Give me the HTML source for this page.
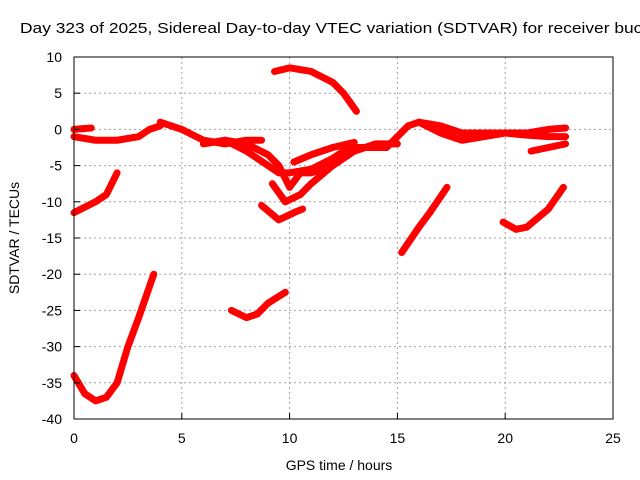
<!DOCTYPE html>
<html><head><meta charset="utf-8"><style>
body{margin:0;background:#fff;}
svg{display:block;font-family:"Liberation Sans",sans-serif;}
</style></head><body>
<svg id="chart" width="640" height="480">
<rect width="640" height="480" fill="#fff"/>
<text x="20" y="33" font-size="15" textLength="632" lengthAdjust="spacingAndGlyphs">Day 323 of 2025, Sidereal Day-to-day VTEC variation (SDTVAR) for receiver bucu</text>
<g id="grid"></g>
<g id="series"></g>
<rect x="74" y="57" width="539" height="362" fill="none" stroke="#000" stroke-width="1"/>
<g id="axes"></g>
<text x="339" y="470" font-size="14" text-anchor="middle">GPS time / hours</text>
<text transform="translate(19,238) rotate(-90)" font-size="14" text-anchor="middle">SDTVAR / TECUs</text>
</svg>
<script>
const xTicks=[0,5,10,15,20,25];
const yTicks=[10,5,0,-5,-10,-15,-20,-25,-30,-35,-40];
const track1=[[0,-1],[1,-1.5],[2,-1.5],[3,-1],[3.5,0],[4,0.5]];
const track2=[[0,0],[0.8,0.2]];
const track3=[[4,1],[5,0],[6,-1.5],[7,-2],[8,-1.5],[8.7,-1.5]];
const track4=[[6,-2],[7,-1.5],[8,-3],[9,-5],[9.5,-6],[10,-6],[11,-5.5],[12,-4],[12.5,-3],[13,-2.5],[14,-2.5],[14.5,-2.5],[15,-1],[15.5,0.5],[16,1],[17,0.5],[18,-0.5],[19,-0.5],[20,-0.5],[21,-0.5],[22,0],[22.8,0.2]];
const track5=[[7,-1.5],[8,-2],[9,-3.5],[9.5,-5],[10,-8],[10.5,-6],[11,-6],[12,-5],[13,-3],[14,-2],[15,-2]];
const track6=[[9.2,-7.5],[9.8,-10],[10.5,-9],[11,-7.5],[12,-5],[12.5,-3.5]];
const track7=[[10.2,-4.5],[11,-3.5],[12,-2.5],[13,-1.8]];
const track8=[[16,1],[17,-0.5],[18,-1.5],[19,-1],[20,-0.5],[21,-0.8],[22,-1],[22.8,-1]];
const track9=[[21.2,-3],[22,-2.5],[22.8,-2]];
const track10=[[9.3,8],[10,8.5],[11,8],[12,6.5],[12.5,5],[13.1,2.5]];
const track11=[[0,-11.5],[1,-10],[1.5,-9],[2,-6]];
const track12=[[0,-34],[0.5,-36.5],[1,-37.5],[1.5,-37],[2,-35],[2.5,-30],[3,-26],[3.7,-20]];
const track13=[[7.3,-25],[8,-26],[8.5,-25.5],[9,-24],[9.8,-22.5]];
const track14=[[8.7,-10.5],[9.5,-12.5],[10.2,-11.5],[10.6,-11]];
const track15=[[15.2,-17],[16,-13.5],[16.5,-11.5],[17.3,-8]];
const track16=[[19.9,-12.8],[20.5,-13.8],[21,-13.5],[22,-11],[22.7,-8]];
const tracks=[track1,track2,track3,track4,track5,track6,track7,track8,track9,track10,track11,track12,track13,track14,track15,track16];
const NS="http://www.w3.org/2000/svg";
function xs(v){return 74+(v-0)/25*539;}
function ys(v){return 57+(10-v)/50*362;}
const grid=document.getElementById('grid'),axes=document.getElementById('axes'),ser=document.getElementById('series');
function mk(tag,at,par){const e=document.createElementNS(NS,tag);for(const k in at)e.setAttribute(k,at[k]);par.appendChild(e);return e;}
xTicks.forEach(t=>{
  const x=xs(t);
  if(t>0&&t<25){const g=mk('line',{x1:x,y1:57,x2:x,y2:419,stroke:'#a0a0a0','stroke-dasharray':'2,3'},grid);
  
  }
  const l=mk('line',{x1:x,y1:419,x2:x,y2:413,stroke:'#000'},axes);
  
  
  const tx=mk('text',{x:x,y:443,'font-size':14,'text-anchor':'middle'},axes);tx.textContent=t;
  
  
});
yTicks.forEach(t=>{
  const y=ys(t);
  if(t<10&&t>-40){const g=mk('line',{x1:74,y1:y,x2:613,y2:y,stroke:'#a0a0a0','stroke-dasharray':'2,3'},grid);
  
  }
  const l=mk('line',{x1:74,y1:y,x2:80,y2:y,stroke:'#000'},axes);
  
  
  const tx=mk('text',{x:62,y:y+5,'font-size':14,'text-anchor':'end'},axes);tx.textContent=t;
  
  
});
tracks.forEach(tr=>{
  const p=mk('polyline',{points:tr.map(d=>xs(d[0])+','+ys(d[1])).join(' '),fill:'none',stroke:'#f00','stroke-width':7,'stroke-linejoin':'round','stroke-linecap':'round'},ser);
  
  
});
</script>
</body></html>
